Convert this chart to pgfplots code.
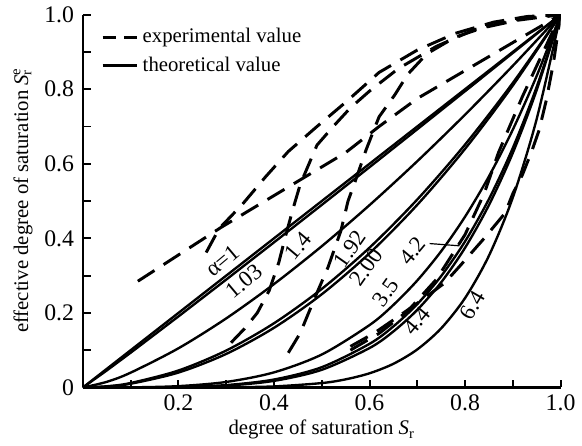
\documentclass[border={3.5pt 0pt 0pt 0pt}]{standalone}
\usepackage{fontspec}
\setmainfont{Liberation Serif}
\usepackage{pgfplots}
\pgfplotsset{compat=1.18}

\begin{document}
\begin{tikzpicture}[font=\fontsize{11}{13}\selectfont]
\begin{axis}[
    scale only axis,
    width=241.5pt, height=188.5pt,
    xmin=0, xmax=1, ymin=0, ymax=1,
    axis x line*=bottom, axis y line*=left,
    axis line style={line width=1.2pt},
    tick align=inside,
    major tick length=4pt, minor tick length=4pt,
    tick style={line width=1pt, black},
    tick label style={font=\fontsize{12}{14}\selectfont},
    xtick={0.2,0.4,0.6,0.8,1.0}, xticklabels={0.2,0.4,0.6,0.8,1.0},
    minor xtick={0.1,0.3,0.5,0.7,0.9},
    ytick={0,0.2,0.4,0.6,0.8,1.0}, yticklabels={0,0.2,0.4,0.6,0.8,1.0},
    minor ytick={0.1,0.3,0.5,0.7,0.9},
    yticklabel style={xshift=-1pt},
    label style={font=\fontsize{10.5}{12.5}\selectfont},
    xlabel={degree of saturation \textit{S}\textsubscript{r}},
    ylabel={effective degree of saturation \textit{S}\rlap{\textsuperscript{e}}\textsubscript{r}},
    xlabel style={yshift=2pt},
    ylabel style={yshift=-1pt},
    legend cell align=left,
    legend style={draw=none, fill=none, at={(0.025,0.985)}, anchor=north west,
        font=\fontsize{10.5}{12.5}\selectfont,
        row sep=1.5pt, /tikz/every even column/.append style={column sep=22pt}},
    legend image code/.code={\draw[#1] (0pt,0pt) -- (17.5pt,0pt);},
    exp/.style={black, line width=1.5pt, dash pattern=on 10pt off 5.5pt},
    th/.style={black, line width=1.2pt},
]

% legend
\addlegendimage{black, line width=1.5pt, dash pattern=on 6.5pt off 4.5pt}
\addlegendentry{experimental value}
\addlegendimage{black, line width=1.2pt}
\addlegendentry{theoretical value}

% experimental curves (dashed)
\addplot[exp, forget plot] coordinates {
    (0.115,0.285) (0.29,0.43) (0.42,0.53) (0.55,0.63) (0.62,0.70)
    (0.70,0.775) (0.80,0.85) (0.90,0.925) (1.0,1.0)
};
\addplot[exp, forget plot] coordinates {
    (0.258,0.362) (0.285,0.426) (0.333,0.49) (0.383,0.566) (0.43,0.633)
    (0.49,0.70) (0.55,0.765) (0.62,0.845) (0.70,0.905) (0.78,0.95)
    (0.86,0.98) (0.93,0.995) (1.0,1.0)
};
\addplot[exp, forget plot] coordinates {
    (0.31,0.12) (0.34,0.16) (0.365,0.20) (0.39,0.26) (0.41,0.335)
    (0.425,0.41) (0.44,0.48) (0.455,0.545) (0.49,0.65) (0.524,0.70)
    (0.56,0.75) (0.60,0.795) (0.66,0.855) (0.74,0.915) (0.82,0.96)
    (0.91,0.985) (1.0,1.0)
};
\addplot[exp, forget plot] coordinates {
    (0.43,0.093) (0.455,0.146) (0.486,0.242) (0.513,0.322) (0.54,0.42)
    (0.555,0.50) (0.57,0.553) (0.593,0.638) (0.62,0.726) (0.653,0.785)
    (0.68,0.84) (0.72,0.895) (0.78,0.94) (0.85,0.97) (0.92,0.99) (1.0,1.0)
};
\addplot[exp, forget plot] coordinates {
    (0.56,0.11) (0.61,0.146) (0.66,0.19) (0.71,0.235) (0.757,0.28)
    (0.79,0.327) (0.84,0.40) (0.884,0.468) (0.90,0.52) (0.92,0.57)
    (0.94,0.635) (0.955,0.69) (0.97,0.77) (0.985,0.87) (1.0,1.0)
};
\addplot[exp, forget plot] coordinates {
    (0.56,0.10) (0.62,0.145) (0.68,0.205) (0.74,0.29) (0.80,0.41)
    (0.84,0.52) (0.87,0.63) (0.92,0.78) (1.0,1.0)
};

% theoretical curves (solid), Se = Sr^alpha
% alpha = 1
\addplot[th, forget plot] coordinates {(0,0) (1,1)};
% alpha = 1.03
\addplot[th, forget plot] coordinates {
    (0,0) (0.05,0.0457) (0.1,0.0933) (0.2,0.1906) (0.3,0.2894) (0.4,0.3892)
    (0.5,0.4897) (0.6,0.5909) (0.7,0.6926) (0.8,0.7947) (0.9,0.8972) (1,1)
};
% alpha = 1.4
\addplot[th, smooth, forget plot] coordinates {
    (0,0) (0.05,0.0151) (0.1,0.0398) (0.2,0.1051) (0.3,0.1853) (0.4,0.2773)
    (0.5,0.3789) (0.6,0.4891) (0.7,0.6069) (0.8,0.7317) (0.9,0.8629) (1,1)
};
% alpha = 1.92
\addplot[th, smooth, forget plot] coordinates {
    (0,0) (0.05,0.0032) (0.1,0.0120) (0.2,0.0455) (0.3,0.0991) (0.4,0.1722)
    (0.5,0.2643) (0.6,0.3750) (0.7,0.5042) (0.8,0.6515) (0.9,0.8169) (1,1)
};
% alpha = 2.00
\addplot[th, smooth, forget plot] coordinates {
    (0,0) (0.05,0.0025) (0.1,0.01) (0.2,0.04) (0.3,0.09) (0.4,0.16)
    (0.5,0.25) (0.6,0.36) (0.7,0.49) (0.8,0.64) (0.9,0.81) (1,1)
};
% alpha = 3.5
\addplot[th, smooth, forget plot] coordinates {
    (0,0) (0.1,0.0003) (0.2,0.0036) (0.3,0.0148) (0.4,0.0405) (0.5,0.0884)
    (0.6,0.1673) (0.65,0.2214) (0.7,0.2870) (0.75,0.3654) (0.8,0.4580)
    (0.85,0.5662) (0.9,0.6916) (0.95,0.8357) (1,1)
};
% alpha = 4.2
\addplot[th, smooth, forget plot] coordinates {
    (0,0) (0.1,0.0001) (0.2,0.0012) (0.3,0.0064) (0.4,0.0213) (0.5,0.0544)
    (0.6,0.1170) (0.65,0.1638) (0.7,0.2236) (0.75,0.2987) (0.8,0.3917)
    (0.85,0.5053) (0.9,0.6424) (0.95,0.8062) (1,1)
};
% alpha = 4.4
\addplot[th, smooth, forget plot] coordinates {
    (0,0) (0.1,0.00004) (0.2,0.0008) (0.3,0.0050) (0.4,0.0177) (0.5,0.0474)
    (0.6,0.1057) (0.65,0.1503) (0.7,0.2082) (0.75,0.2820) (0.8,0.3746)
    (0.85,0.4892) (0.9,0.6290) (0.95,0.7980) (1,1)
};
% alpha = 6.4
\addplot[th, smooth, forget plot] coordinates {
    (0,0) (0.1,0.0000) (0.2,0.00003) (0.3,0.0005) (0.4,0.0028) (0.5,0.0118)
    (0.55,0.0218) (0.6,0.0380) (0.65,0.0635) (0.7,0.1020) (0.75,0.1586)
    (0.8,0.2398) (0.85,0.3534) (0.9,0.5095) (0.95,0.7202) (1,1)
};

% curve labels
\begin{scope}[every node/.style={inner sep=0.5pt, font=\fontsize{11.5}{13}\selectfont}]
\node[rotate=40] at (axis cs:0.293,0.340) {α=1};
\node[rotate=40] at (axis cs:0.337,0.285) {1.03};
\node[rotate=50] at (axis cs:0.451,0.380) {1.4};
\node[rotate=55] at (axis cs:0.559,0.372) {1.92};
\node[rotate=55] at (axis cs:0.593,0.322) {2.00};
\node[rotate=50] at (axis cs:0.690,0.367) {4.2};
\node[rotate=55] at (axis cs:0.634,0.255) {3.5};
\node[rotate=50] at (axis cs:0.699,0.178) {4.4};
\node[rotate=60] at (axis cs:0.815,0.221) {6.4};
\end{scope}
\draw[line width=0.6pt] (axis cs:0.726,0.386) -- (axis cs:0.788,0.380);
\end{axis}
\end{tikzpicture}
\end{document}
